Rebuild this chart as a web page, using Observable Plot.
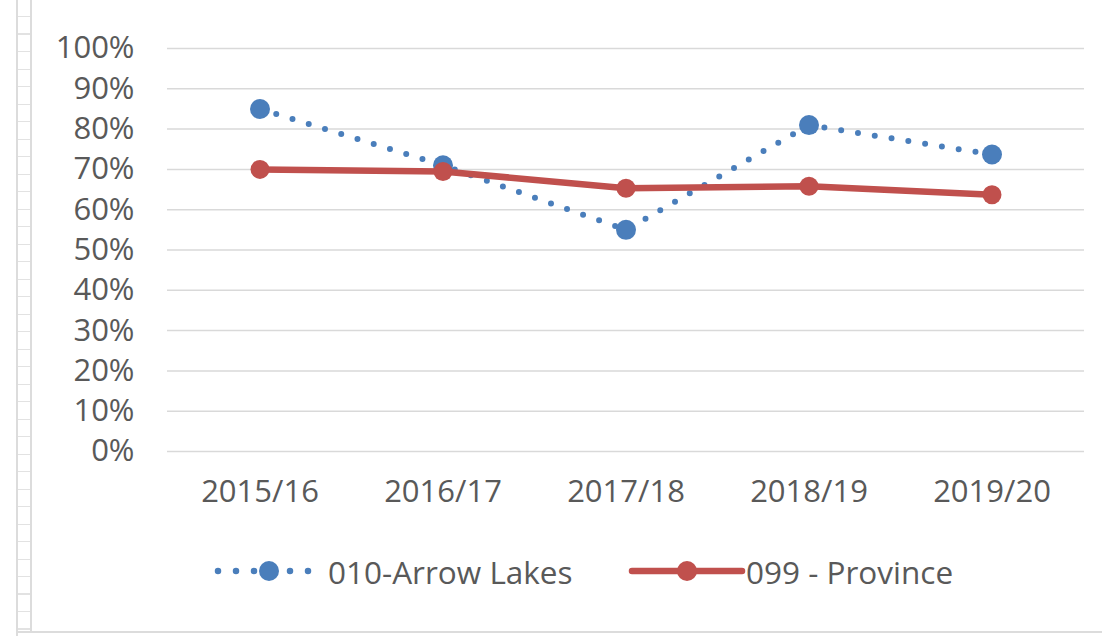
<!DOCTYPE html>
<html>
<head>
<meta charset="utf-8">
<script src="https://cdn.jsdelivr.net/npm/d3@7"></script>
<script src="https://cdn.jsdelivr.net/npm/@observablehq/plot@0.6"></script>
<style>
  html, body { margin: 0; padding: 0; background: #fff; }
  body { width: 1102px; height: 636px; position: relative; overflow: hidden; font-family: "Open Sans", sans-serif; }
  #chart { position: absolute; left: 0; top: 0; }
  .edge1 { position: absolute; left: 16px; top: 0; width: 2px; height: 636px; background: #dcdcdc; }
  .edge2 { position: absolute; left: 30px; top: 0; width: 2px; height: 632px; background: #dcdcdc; }
  .ticks { position: absolute; left: 18px; top: 0; width: 12px; height: 632px;
           background: repeating-linear-gradient(to bottom, transparent 0 16px, #e2e2e2 16px 17.5px); }
  .bottom { position: absolute; left: 16px; top: 631px; width: 1086px; height: 2px; background: #dcdcdc; }
  #legend { position: absolute; top: 547px; left: 0; width: 1102px; height: 48px; }
  .item { position: absolute; top: 0; display: flex; align-items: center; height: 48px; }
  .item span { font-size: 31.5px; color: #595959; }
</style>
</head>
<body>
<div class="edge1"></div><div class="edge2"></div><div class="ticks"></div><div class="bottom"></div>
<div id="chart"></div>
<div id="legend"></div>
<script>
const categories = ["2015/16", "2016/17", "2017/18", "2018/19", "2019/20"];
const arrowLakes = [0.85, 0.71, 0.55, 0.81, 0.737];
const province = [0.70, 0.695, 0.653, 0.658, 0.637];
const yTicks = [0, 0.1, 0.2, 0.3, 0.4, 0.5, 0.6, 0.7, 0.8, 0.9, 1.0];
const seriesNames = ["010-Arrow Lakes", "099 - Province"];
const blue = "#4a7ebb";
const red = "#c0504d";

const dataA = categories.map((c, i) => ({cat: c, v: arrowLakes[i]}));
const dataP = categories.map((c, i) => ({cat: c, v: province[i]}));

const chart = Plot.plot({
  width: 1102,
  height: 530,
  marginLeft: 167,
  marginRight: 18,
  marginTop: 48,
  marginBottom: 79,
  style: {fontFamily: "'Open Sans', sans-serif", fontSize: "31px", color: "#595959", background: "transparent"},
  x: {type: "band", domain: categories, padding: 0, label: null},
  y: {domain: [0, 1], label: null},
  marks: [
    Plot.ruleY(yTicks, {stroke: "#d9d9d9", strokeWidth: 1.5}),
    Plot.axisY({ticks: yTicks, tickFormat: d => Math.round(d * 100) + "%", tickSize: 0, tickPadding: 33, label: null, fill: "#595959"}),
    Plot.axisX({tickSize: 0, tickPadding: 28, label: null, fill: "#595959"}),
    Plot.line(dataA, {x: "cat", y: "v", stroke: blue, strokeWidth: 6, strokeDasharray: "0 17", strokeLinecap: "round"}),
    Plot.dot(dataA, {x: "cat", y: "v", r: 10, fill: blue}),
    Plot.line(dataP, {x: "cat", y: "v", stroke: red, strokeWidth: 6.5, strokeLinecap: "round"}),
    Plot.dot(dataP, {x: "cat", y: "v", r: 9.5, fill: red})
  ]
});
document.getElementById("chart").appendChild(chart);

// legend
const legend = document.getElementById("legend");
function addItem(left, swatchW, x1, x2, name, kind, color, textGap) {
  const div = document.createElement("div");
  div.className = "item";
  div.style.left = left + "px";
  const ns = "http://www.w3.org/2000/svg";
  const svg = document.createElementNS(ns, "svg");
  svg.setAttribute("width", swatchW);
  svg.setAttribute("height", 30);
  const line = document.createElementNS(ns, "line");
  line.setAttribute("x1", x1);
  line.setAttribute("x2", x2);
  line.setAttribute("y1", 15); line.setAttribute("y2", 15);
  line.setAttribute("stroke", color);
  line.setAttribute("stroke-linecap", "round");
  if (kind === "dot") {
    line.setAttribute("stroke-width", 6.5);
    line.setAttribute("stroke-dasharray", "0 18");
  } else {
    line.setAttribute("stroke-width", 6.5);
  }
  svg.appendChild(line);
  const c = document.createElementNS(ns, "circle");
  c.setAttribute("cx", swatchW / 2); c.setAttribute("cy", 15);
  c.setAttribute("r", 10); c.setAttribute("fill", color);
  svg.appendChild(c);
  div.appendChild(svg);
  const s = document.createElement("span");
  s.textContent = name;
  s.style.marginLeft = textGap + "px";
  div.appendChild(s);
  legend.appendChild(div);
}
addItem(212, 114, 6, 99, seriesNames[0], "dot", blue, 2);
addItem(628, 118, 4, 114, seriesNames[1], "line", red, 0);
</script>
</body>
</html>
